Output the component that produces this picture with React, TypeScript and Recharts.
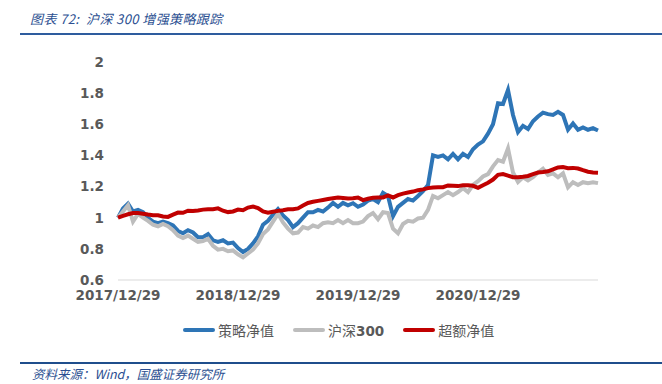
import { LineChart, Line, XAxis, YAxis } from 'recharts';

// 每点约两周，2017/12/29 起
const strategy = [
  1.0, 1.06, 1.09, 1.04, 1.05, 1.035, 1.0, 0.975, 0.965, 0.975, 0.965, 0.95, 0.915, 0.9, 0.92, 0.905,
  0.875, 0.875, 0.895, 0.855, 0.845, 0.855, 0.835, 0.84, 0.805, 0.78, 0.8, 0.835, 0.88, 0.955, 0.98,
  1.02, 1.055, 1.015, 0.985, 0.94, 0.965, 1.0, 1.035, 1.035, 1.05, 1.04, 1.065, 1.095, 1.07, 1.095,
  1.08, 1.093, 1.07, 1.085, 1.11, 1.12, 1.1, 1.16, 1.14, 1.01, 1.07, 1.095, 1.12, 1.11, 1.14, 1.17,
  1.21, 1.4, 1.39, 1.4, 1.375, 1.41, 1.375, 1.41, 1.39, 1.44, 1.47, 1.49, 1.54, 1.6, 1.735, 1.73, 1.82,
  1.66, 1.55, 1.59, 1.57, 1.62, 1.65, 1.675, 1.665, 1.66, 1.68, 1.66, 1.565, 1.605, 1.565, 1.58, 1.565,
  1.575, 1.56,
];

const hs300 = [
  1.0, 1.04, 1.08, 0.975, 1.025, 1.0, 0.98, 0.955, 0.945, 0.96, 0.945, 0.92, 0.885, 0.87, 0.885, 0.865,
  0.845, 0.85, 0.865, 0.82, 0.795, 0.8, 0.785, 0.79, 0.765, 0.745, 0.77, 0.795, 0.835, 0.895, 0.925,
  0.975, 1.025, 0.97, 0.93, 0.9, 0.905, 0.94, 0.93, 0.95, 0.94, 0.965, 0.97, 0.965, 0.985, 0.965, 0.985,
  0.965, 0.965, 0.975, 1.01, 1.03, 0.99, 1.035, 1.03, 0.93, 0.9, 0.96, 0.98, 0.975, 0.995, 1.0, 1.05,
  1.14, 1.125, 1.145, 1.165, 1.145, 1.165, 1.19, 1.165, 1.21, 1.235, 1.265, 1.28, 1.33, 1.37, 1.36,
  1.445, 1.29, 1.23, 1.26, 1.24, 1.26, 1.29, 1.315, 1.275, 1.285, 1.26, 1.285, 1.195, 1.228, 1.21,
  1.228, 1.222, 1.228, 1.222,
];

const excess = [
  1.0, 1.012, 1.022, 1.03, 1.03, 1.025, 1.02, 1.016, 1.016, 1.008, 1.005, 1.02, 1.033, 1.032, 1.045,
  1.043, 1.047, 1.052, 1.055, 1.055, 1.06, 1.045, 1.036, 1.04, 1.052, 1.048, 1.065, 1.072, 1.062, 1.04,
  1.032, 1.038, 1.044, 1.048, 1.054, 1.055, 1.06, 1.078, 1.095, 1.102, 1.108, 1.114, 1.12, 1.125, 1.13,
  1.127, 1.124, 1.125, 1.13, 1.113, 1.122, 1.128, 1.13, 1.13, 1.143, 1.13, 1.145, 1.155, 1.162, 1.168,
  1.177, 1.182, 1.19, 1.194, 1.196, 1.196, 1.207, 1.205, 1.203, 1.209, 1.209, 1.205, 1.192, 1.209,
  1.225, 1.245, 1.275, 1.28, 1.27, 1.26, 1.26, 1.263, 1.268, 1.28, 1.29, 1.293, 1.298, 1.31, 1.323,
  1.325, 1.318, 1.32, 1.316, 1.305, 1.295, 1.29, 1.288,
];

const tickLabels = ['2017/12/29', '2018/12/29', '2019/12/29', '2020/12/29'];
const tickIndex = [0, 24, 48, 72];
const yTicks = [0.6, 0.8, 1, 1.2, 1.4, 1.6, 1.8, 2];

const series = [
  { key: 'strategy', name: '策略净值', color: '#2E75B6' },
  { key: 'hs300', name: '沪深300', color: '#BDBDBD' },
  { key: 'excess', name: '超额净值', color: '#C00000' },
];

const data = strategy.map((v, i) => ({
  i,
  strategy: v,
  hs300: hs300[i],
  excess: excess[i],
}));

const tickStyle = {
  fontFamily: '"DejaVu Sans", sans-serif',
  fontWeight: 'bold' as const,
  fontSize: 13.5,
  fill: '#595959',
};

// 数字部分加粗，和原图一致
const LegendText = ({ text }: any) => {
  const parts = text.split(/(\d+)/).filter((p: string) => p);
  return (
    <span>
      {parts.map((p: string, i: number) =>
        /\d/.test(p) ? (
          <b key={i} style={{ fontFamily: '"DejaVu Sans", sans-serif', fontSize: 13.5 }}>{p}</b>
        ) : (
          <span key={i}>{p}</span>
        )
      )}
    </span>
  );
};

const LegendItem = ({ color, name }: any) => (
  <div style={{ display: 'flex', alignItems: 'center', marginRight: 19 }}>
    <div style={{ width: 32, height: 4, background: color, borderRadius: 2, marginRight: 3 }}></div>
    <LegendText text={name} />
  </div>
);

export default function App() {
  return (
    <div
      style={{
        position: 'absolute',
        left: 0,
        top: 0,
        width: 662,
        height: 384,
        background: '#fff',
        overflow: 'hidden',
      }}
    >
      <div
        style={{
          position: 'absolute',
          left: 30,
          top: 9,
          fontFamily: '"Noto Sans CJK SC", sans-serif',
          fontStyle: 'italic',
          fontSize: 13,
          letterSpacing: 0.4,
          color: '#2B4F91',
          whiteSpace: 'pre',
        }}
      >
        {'图表 72:  沪深 300 增强策略跟踪'}
      </div>
      <div style={{ position: 'absolute', left: 20, top: 33, width: 642, height: 2, background: '#2E5C9E' }}></div>

      <div style={{ position: 'absolute', left: 0, top: 0 }}>
        <LineChart width={662} height={320} data={data} margin={{ top: 62, right: 64, bottom: 10, left: 0 }}>
          <XAxis
            dataKey='i'
            type='number'
            domain={[0, 96]}
            ticks={tickIndex}
            tickFormatter={(v: number) => tickLabels[tickIndex.indexOf(v)]}
            axisLine={{ stroke: '#D9D9D9', strokeWidth: 1 }}
            tickLine={false}
            tickSize={6}
            tickMargin={4}
            height={30}
            tick={tickStyle}
            interval={0}
          />
          <YAxis
            domain={[0.6, 2]}
            ticks={yTicks}
            axisLine={false}
            tickLine={false}
            tickSize={6}
            tickMargin={8}
            width={118}
            tick={tickStyle}
            interval={0}
          />
          {series.map((s) => (
            <Line
              key={s.key}
              type='linear'
              dataKey={s.key}
              name={s.name}
              stroke={s.color}
              strokeWidth={4}
              dot={false}
              isAnimationActive={false}
            />
          ))}
        </LineChart>
      </div>

      <div
        style={{
          position: 'absolute',
          left: 183,
          top: 320,
          display: 'flex',
          fontFamily: '"Noto Sans CJK SC", sans-serif',
          fontSize: 14,
          color: '#595959',
        }}
      >
        {series.map((s) => (
          <LegendItem key={s.key} color={s.color} name={s.name} />
        ))}
      </div>

      <div style={{ position: 'absolute', left: 20, top: 362, width: 642, height: 2, background: '#1F4E8C' }}></div>
      <div
        style={{
          position: 'absolute',
          left: 32,
          top: 364,
          fontFamily: '"Noto Sans CJK SC", sans-serif',
          fontStyle: 'italic',
          fontSize: 12.5,
          color: '#2B4F91',
          whiteSpace: 'pre',
        }}
      >
        {'资料来源：Wind，国盛证券研究所'}
      </div>
    </div>
  );
}
